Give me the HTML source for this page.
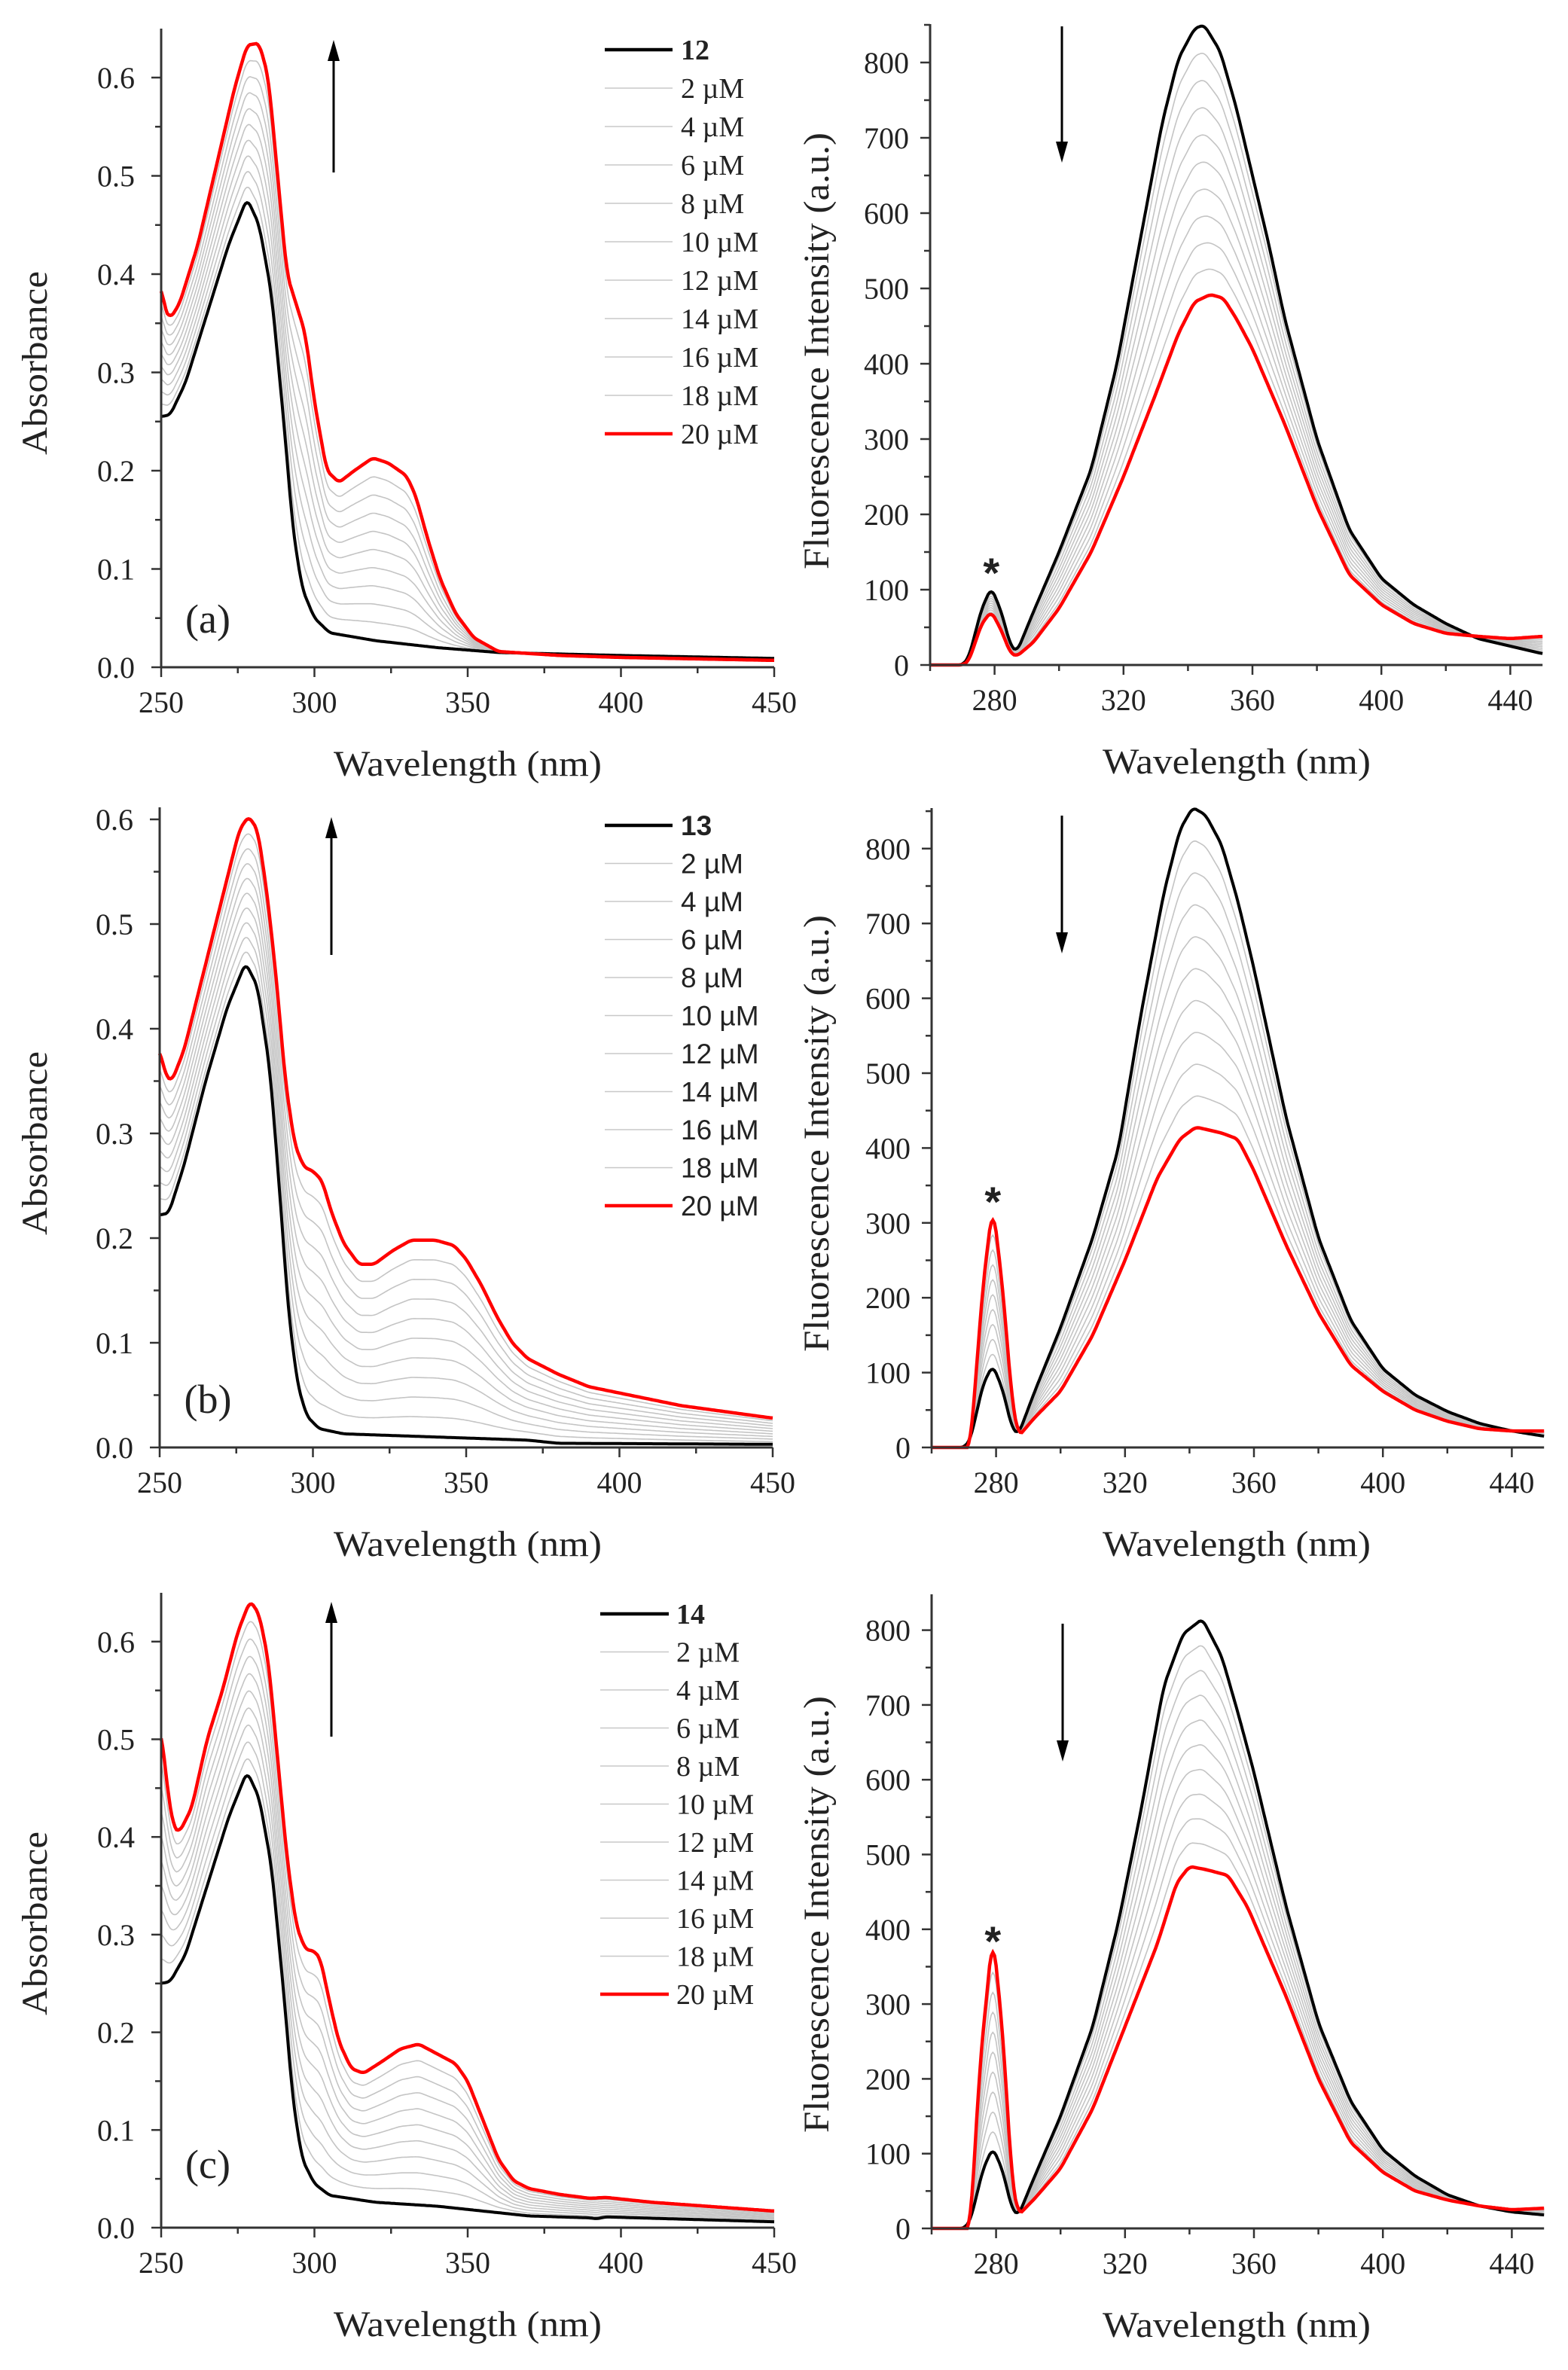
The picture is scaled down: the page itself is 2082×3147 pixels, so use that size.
<!DOCTYPE html>
<html><head><meta charset="utf-8">
<style>
html,body{margin:0;padding:0;background:#fff;}
svg{display:block;}
text{font-family:"Liberation Serif",serif;fill:#222;}
</style></head>
<body>
<svg id="s" width="2082" height="3147" xmlns="http://www.w3.org/2000/svg"></svg>
<script>
const S=document.getElementById('s');
let out='';
function lin(pts,x){if(x<=pts[0][0])return pts[0][1];for(let i=1;i<pts.length;i++){if(x<=pts[i][0]){const a=pts[i-1],b=pts[i];return a[1]+(b[1]-a[1])*(x-a[0])/(b[0]-a[0]);}}return pts[pts.length-1][1];}
function sm(pts,x){let s=0,n=0;for(let d=-1;d<=1.001;d+=0.5){s+=lin(pts,x+d);n++;}return s/n;}
function panel(p){
 const X=l=>p.x0+(l-p.l0)*p.px, Y=v=>p.y0-v*p.py;
 const step=0.5;
 function path(fn){let d='';for(let l=p.l0;l<=p.l1+0.001;l+=step){const v=fn(l);d+=(d?'L':'M')+X(l).toFixed(1)+' '+Y(v).toFixed(1);}return d;}
 for(let i=1;i<=9;i++){const t=i/10;out+=`<path d="${path(l=>{const b=sm(p.blk,l),r=sm(p.red,l);return b+(r-b)*t;})}" fill="none" stroke="#c4c4c4" stroke-width="1.6"/>`;}
 out+=`<path d="${path(l=>sm(p.blk,l))}" fill="none" stroke="#000" stroke-width="4"/>`;
 out+=`<path d="${path(l=>sm(p.red,l))}" fill="none" stroke="#f00" stroke-width="4.5"/>`;
 out+=`<line x1="${p.x0}" y1="${p.y0}" x2="${X(p.l1)}" y2="${p.y0}" stroke="#333" stroke-width="3"/>`;
 out+=`<line x1="${p.x0}" y1="${p.y0}" x2="${p.x0}" y2="${p.top}" stroke="#333" stroke-width="3"/>`;
 for(let l=p.l0;l<=p.l1+0.001;l+=p.xmin){const maj=Math.abs(((l-p.xs)/p.xmaj)-Math.round((l-p.xs)/p.xmaj))<1e-6;
  out+=`<line x1="${X(l)}" y1="${p.y0}" x2="${X(l)}" y2="${p.y0+(maj?13:8)}" stroke="#333" stroke-width="2.5"/>`;
  if(maj&&l>=p.xs)out+=`<text x="${X(l)}" y="${p.y0+60}" font-size="40" text-anchor="middle">${l}</text>`;}
 for(let v=0;v<=p.vmax+1e-9;v+=p.ymin){const k=Math.round(v/p.ymin);const maj=k%2==0;
  out+=`<line x1="${p.x0}" y1="${Y(v)}" x2="${p.x0-(maj?13:8)}" y2="${Y(v)}" stroke="#333" stroke-width="2.5"/>`;
  if(maj)out+=`<text x="${p.x0-(p.fl?28:35)}" y="${Y(v)+14}" font-size="40" text-anchor="end">${p.fl?Math.round(v):v.toFixed(1)}</text>`;}
 out+=`<text x="${p.xt}" y="${p.y0+144}" font-size="48" text-anchor="middle" textLength="356" lengthAdjust="spacingAndGlyphs">Wavelength (nm)</text>`;
 out+=`<text transform="translate(${p.ylx},${p.yly}) rotate(-90)" font-size="48" text-anchor="middle" textLength="${p.yll}" lengthAdjust="spacingAndGlyphs">${p.ylab}</text>`;
}
function arrow(x,y1,y2){const up=y2<y1;out+=`<line x1="${x}" y1="${y1}" x2="${x}" y2="${up?y2+25:y2-25}" stroke="#000" stroke-width="3"/>`;
 out+=`<polygon points="${x-8},${up?y2+28:y2-28} ${x+8},${up?y2+28:y2-28} ${x},${y2}" fill="#000"/>`;}
function legend(x1,x2,tx,y0,dy,lab,sans){
 const ff=sans?"font-family:'Liberation Sans',sans-serif;":'';
 for(let i=0;i<11;i++){const y=y0+dy*i;let col=i==0?'#000':(i==10?'#f00':'#c8c8c8');let w=i==0||i==10?4.5:1.6;
  out+=`<line x1="${x1}" y1="${y}" x2="${x2}" y2="${y}" stroke="${col}" stroke-width="${w}"/>`;
  const t=i==0?lab:(2*i)+' µM';
  out+=`<text x="${tx}" y="${y+13}" font-size="${sans?37:38}" style="${ff}${i==0?'font-weight:bold;':''}">${t}</text>`;}}
const Ab={blk:[[250,.255],[253,.257],[258,.29],[265,.36],[272,.43],[278,.477],[282,.45],[286,.38],[290,.25],[293,.14],[296,.08],[300,.05],[305,.035],[320,.027],[340,.02],[360,.015],[400,.012],[450,.009]],
red:[[250,.39],[251,.365],[253,.355],[256,.37],[262,.43],[268,.51],[274,.59],[278,.633],[282,.635],[285,.6],[288,.5],[291,.4],[294,.37],[297,.34],[300,.27],[304,.2],[308,.188],[313,.2],[319,.213],[324,.208],[330,.195],[333,.175],[337,.13],[341,.09],[346,.055],[352,.03],[360,.016],[380,.012],[400,.01],[450,.007]]};
const Bb={blk:[[250,.222],[253,.224],[258,.27],[265,.35],[272,.42],[278,.463],[282,.44],[286,.36],[289,.25],[292,.13],[295,.06],[298,.03],[302,.018],[310,.013],[340,.01],[370,.007],[380,.004],[450,.003]],
red:[[250,.38],[252,.355],[254,.35],[258,.38],[264,.45],[270,.52],[276,.59],[279,.603],[282,.59],[285,.53],[288,.45],[291,.35],[294,.29],[297,.268],[300,.264],[303,.255],[306,.225],[310,.195],[315,.175],[320,.175],[326,.188],[332,.198],[340,.198],[346,.193],[350,.18],[355,.155],[360,.125],[365,.1],[370,.085],[380,.07],[390,.058],[400,.052],[420,.04],[440,.032],[450,.028]]};
const Cb={blk:[[250,.25],[253,.252],[258,.28],[265,.35],[272,.42],[278,.467],[282,.44],[286,.37],[290,.24],[293,.13],[296,.07],[300,.045],[305,.033],[320,.026],[340,.022],[370,.012],[390,.01],[392,.009],[395,.011],[450,.006]],
red:[[250,.51],[252,.45],[254,.41],[256,.405],[260,.43],[265,.5],[270,.55],[275,.61],[279,.642],[282,.628],[285,.58],[288,.48],[291,.38],[294,.31],[297,.285],[300,.283],[302,.275],[305,.23],[308,.19],[312,.163],[316,.158],[322,.17],[328,.183],[334,.188],[340,.178],[346,.168],[350,.15],[355,.11],[360,.07],[365,.048],[370,.04],[380,.034],[390,.03],[395,.031],[410,.026],[450,.017]]};
const z=[[260,0],[270,0]];
const Af={blk:z.concat([[272,10],[276,75],[279,103],[282,72],[285,25],[287,18],[292,70],[300,150],[310,260],[318,400],[325,560],[332,720],[337,805],[342,845],[345,850],[350,815],[355,740],[360,650],[365,560],[370,460],[380,300],[390,180],[400,115],[410,80],[420,55],[430,35],[440,25],[450,15]]),
red:z.concat([[272,5],[276,55],[279,71],[282,47],[285,15],[287,12],[292,30],[300,75],[310,150],[320,250],[330,360],[337,440],[342,482],[347,492],[351,487],[355,460],[360,420],[365,370],[370,320],[380,210],[390,120],[400,80],[410,55],[420,42],[430,38],[440,35],[450,38]])};
const Bf={blk:z.concat([[272,10],[276,85],[279,110],[282,78],[285,25],[287,18],[292,75],[300,160],[310,280],[318,400],[325,580],[332,740],[337,825],[341,855],[345,845],[350,805],[355,730],[360,640],[365,540],[370,440],[380,280],[390,170],[400,105],[410,70],[420,48],[430,32],[440,22],[450,15]]),
red:z.concat([[272,0],[276,220],[279,325],[282,215],[285,60],[287,15],[292,40],[300,75],[310,150],[320,250],[330,360],[337,412],[342,428],[350,420],[355,412],[360,370],[365,320],[370,270],[380,180],[390,110],[400,75],[410,50],[420,35],[430,25],[440,22],[450,22]])};
const Cf={blk:z.concat([[272,10],[276,80],[279,108],[282,78],[285,25],[287,18],[292,70],[300,150],[310,270],[318,410],[325,560],[332,725],[338,795],[344,815],[350,765],[355,690],[360,610],[365,520],[370,430],[380,275],[390,170],[400,105],[410,70],[420,45],[430,30],[440,22],[450,18]]),
red:z.concat([[272,0],[275,220],[279,395],[282,265],[285,60],[287,18],[292,40],[300,80],[310,160],[320,270],[330,380],[336,462],[340,484],[345,480],[352,472],[358,430],[365,360],[370,310],[380,200],[390,115],[400,75],[410,50],[420,38],[430,30],[440,25],[450,27]])};
const rows=[
 {L:{y0:886,py:1305,top:38,x0:214},R:{y0:883,py:1.0,top:32,x0:1235},dat:[Ab,Af],lab:'12',leg:[803,893,904,66,51],sans:false,arr:[443,229,53],darr:[1410,35,216],ast:756,pl:['(a)',840]},
 {L:{y0:1922,py:1390,top:1072,x0:212},R:{y0:1922,py:0.994,top:1073,x0:1237},dat:[Bb,Bf],lab:'13',leg:[803,893,904,1096,50.5],sans:true,arr:[440,1268,1085],darr:[1410,1083,1266],ast:1591,pl:['(b)',1876]},
 {L:{y0:2958,py:1297,top:2115,x0:214},R:{y0:2959,py:0.993,top:2117,x0:1237},dat:[Cb,Cf],lab:'14',leg:[797,888,898,2143,50.5],sans:false,arr:[440,2306,2127],darr:[1411,2156,2339],ast:2573,pl:['(c)',2892]}
];
rows.forEach(r=>{
 const L=r.L;
 panel({x0:L.x0,l0:250,l1:450,px:4.07,y0:L.y0,py:L.py,top:L.top,blk:r.dat[0].blk,red:r.dat[0].red,xmin:25,xmaj:50,xs:250,ymin:0.05,vmax:(L.y0-L.top)/L.py,fl:false,xt:621,ylx:62,yly:L.y0-404,yll:244,ylab:'Absorbance'});
 const R=r.R;
 panel({x0:R.x0,l0:260,l1:450,px:4.28,y0:R.y0,py:R.py,top:R.top,blk:r.dat[1].blk,red:r.dat[1].red,xmin:20,xmaj:40,xs:280,ymin:50,vmax:(R.y0-R.top)/R.py,fl:true,xt:1642,ylx:1100,yly:R.y0-417,yll:580,ylab:'Fluorescence Intensity (a.u.)'});
 legend(...r.leg,r.lab,r.sans);
 arrow(...r.arr);arrow(...r.darr);
 out+=`<text x="${R.x0+(279-260)*4.28}" y="${r.ast+24}" font-size="56" font-weight="bold" text-anchor="middle" style="font-family:'Liberation Sans',sans-serif">*</text>`;
 out+=`<text x="276" y="${r.pl[1]}" font-size="54" text-anchor="middle">${r.pl[0]}</text>`;
});
S.innerHTML=out;
</script>
</body></html>
